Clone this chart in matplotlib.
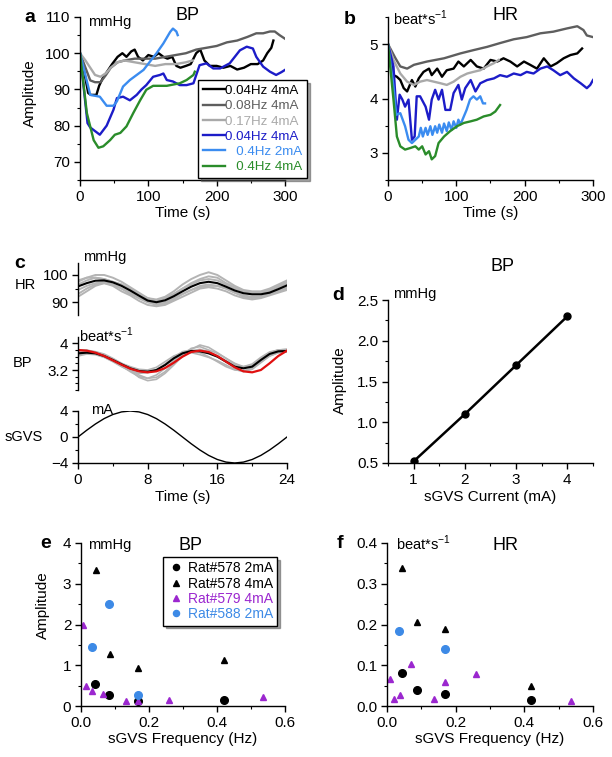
import matplotlib
matplotlib.use("Agg")
import matplotlib.pyplot as plt
from matplotlib.ticker import MultipleLocator

plt.rcParams['font.family'] = ['Liberation Sans', 'DejaVu Sans']
plt.rcParams['mathtext.fontset'] = 'custom'
plt.rcParams['mathtext.rm'] = 'Liberation Sans'

# ---- panel a : BP time course (mmHg) ----
a_labels = ['0.04Hz 4mA', '0.08Hz 4mA', '0.17Hz 4mA', '0.04Hz 4mA', '   0.4Hz 2mA', '   0.4Hz 4mA']
colors = ['#000000', '#5e5e5e', '#a9a9a9', '#1c1cc8', '#3b8cf0', '#2a8c2a']

a_t0 = [0, 6, 12, 16, 24, 28, 33, 40, 47, 55, 62, 68, 75, 80, 85, 92, 100, 108, 115, 122, 128, 135, 141,
        147, 155, 162, 170, 176, 182, 190, 200, 210, 220, 230, 240, 250, 260, 268, 274, 280, 283]
a_v0 = [100, 95, 89, 88.5, 88.5, 91, 93, 95, 97, 99, 100, 99, 100.5, 101, 99, 98, 99.5, 99, 100, 99, 98.5, 99, 96.5,
        96, 96.5, 97, 100, 101, 98, 96.5, 96.5, 96, 96.5, 95.5, 96, 97, 97, 98, 100, 101.5, 103.5]
a_t1 = [0, 8, 15, 22, 30, 38, 45, 55, 65, 80, 95, 110, 125, 140, 155, 170, 185, 200, 215, 230, 245, 258, 268, 278, 285, 292, 300]
a_v1 = [100, 96, 92.5, 92, 92, 94, 96, 97.5, 98, 98.5, 98.5, 98.5, 99, 99.5, 100, 101, 101.5, 102, 103, 103.5, 104.5,
        105.5, 105.5, 106, 106, 105, 104]
a_t2 = [0, 8, 15, 22, 30, 38, 45, 55, 65, 80, 95, 110, 125, 140, 155, 165]
a_v2 = [100, 98, 96, 94, 93.5, 94.5, 96, 97.5, 98, 97.5, 97, 96.5, 97, 97, 97.5, 98]
a_t3 = [0, 11, 15, 29, 39, 49, 54, 63, 73, 83, 90, 97, 107, 117, 122, 127, 136, 146, 156, 166, 175, 185, 195, 205,
        219, 234, 244, 253, 258, 268, 278, 287, 295, 300]
a_v3 = [100, 80.7, 79.5, 77.5, 80, 84.4, 87.6, 88, 87, 88.5, 90, 91.2, 93.5, 94, 94.4, 92.6, 92.2, 91.2, 91.2, 91.7,
        96.7, 97.2, 95.8, 95.8, 97.2, 100.8, 101.8, 101.3, 99, 96.3, 94.9, 94, 94.8, 95.4]
a_t4 = [0, 15, 29, 39, 49, 54, 63, 73, 83, 93, 102, 112, 122, 132, 136, 141, 143]
a_v4 = [100, 88.5, 88, 85.5, 85.5, 86.7, 90.8, 92.6, 94, 95.4, 97.6, 100, 102.7, 105.9, 106.8, 106, 105]
a_t5 = [0, 10, 20, 27, 34, 44, 51, 59, 68, 78, 88, 97, 107, 127, 146, 156, 166, 168]
a_v5 = [100, 83.5, 76, 73.9, 74.3, 76, 77.5, 78, 79.8, 83.5, 87, 89.9, 91, 91, 91.7, 92.6, 94, 94.9]

# ---- panel b : HR time course (beat/s) ----
b_t0 = [0, 8, 13, 18, 23, 28, 35, 40, 45, 52, 60, 64, 72, 79, 86, 96, 103, 111, 121, 130, 140, 150, 160, 169, 179,
        189, 199, 208, 218, 228, 238, 247, 257, 267, 277, 284]
b_v0 = [5.0, 4.43, 4.4, 4.34, 4.19, 4.13, 4.34, 4.22, 4.37, 4.49, 4.55, 4.43, 4.55, 4.4, 4.52, 4.55, 4.68, 4.59, 4.71,
        4.59, 4.55, 4.71, 4.68, 4.74, 4.68, 4.59, 4.68, 4.62, 4.55, 4.74, 4.59, 4.65, 4.74, 4.8, 4.83, 4.92]
b_t1 = [0, 11, 18, 28, 38, 57, 82, 106, 125, 145, 164, 184, 203, 223, 242, 262, 277, 286, 291, 300]
b_v1 = [5.0, 4.74, 4.59, 4.55, 4.62, 4.68, 4.74, 4.83, 4.89, 4.95, 5.02, 5.09, 5.13, 5.2, 5.23, 5.29, 5.33, 5.26, 5.16, 5.13]
b_t2 = [0, 8, 18, 28, 38, 47, 57, 67, 77, 86, 96, 106, 116, 125, 135, 145, 155, 162]
b_v2 = [5.0, 4.71, 4.46, 4.31, 4.25, 4.31, 4.34, 4.31, 4.28, 4.25, 4.31, 4.4, 4.46, 4.49, 4.52, 4.59, 4.65, 4.71]
b_t3 = [0, 8, 13, 17, 21, 25, 30, 35, 39, 42, 47, 55, 60, 64, 69, 74, 79, 84, 91, 96, 103, 108, 113, 121, 128, 135,
        145, 155, 164, 174, 184, 194, 203, 213, 223, 233, 242, 252, 262, 272, 282, 291, 296, 300]
b_v3 = [5.0, 4.59, 3.61, 4.07, 3.98, 3.85, 3.98, 3.24, 3.3, 4.04, 4.04, 3.85, 3.61, 3.98, 4.16, 3.98, 4.16, 3.79,
        3.79, 4.1, 4.25, 3.98, 4.19, 4.34, 4.13, 4.28, 4.34, 4.37, 4.43, 4.4, 4.46, 4.43, 4.49, 4.46, 4.55, 4.59, 4.52,
        4.43, 4.49, 4.37, 4.28, 4.19, 4.25, 4.34]
b_t4 = [0, 8, 12, 18, 25, 30, 35, 40, 45, 48, 51, 55, 58, 62, 65, 69, 72, 75, 79, 82, 86, 89, 93, 96, 100, 103,
        106, 115, 120, 125, 130, 135, 139, 142]
b_v4 = [5.0, 4.22, 3.7, 3.73, 3.49, 3.24, 3.18, 3.24, 3.3, 3.46, 3.3, 3.46, 3.33, 3.49, 3.33, 3.49, 3.37, 3.52, 3.37,
        3.54, 3.4, 3.56, 3.42, 3.58, 3.46, 3.61, 3.52, 3.79, 3.98, 4.04, 3.98, 4.04, 3.91, 3.91]
b_t5 = [0, 8, 13, 18, 25, 33, 40, 45, 50, 55, 60, 64, 69, 74, 82, 91, 101, 111, 121, 130, 140, 150, 157, 164]
b_v5 = [5.0, 3.98, 3.3, 3.12, 3.06, 3.09, 3.12, 3.06, 3.12, 2.97, 3.03, 2.88, 2.94, 3.18, 3.3, 3.4, 3.49, 3.55, 3.58,
        3.61, 3.67, 3.7, 3.76, 3.88]

# ---- panel c : averaged responses over one sGVS cycle ----
c_t = list(range(25))
c_bp_mean = [95.8, 97, 97.9, 98, 97.3, 96, 94.3, 92.4, 90.6, 90, 90.7, 92.2, 94, 95.7, 97, 97.5, 97, 95.7, 94.3,
             93.3, 92.9, 92.9, 93.5, 94.8, 96.2]
c_bp_trials = [
    [97.5, 99, 100, 100, 99, 97.5, 95.5, 93.5, 91.5, 91, 92, 94, 96.5, 98.5, 100, 101, 100, 98, 96, 94.5, 94, 94, 95, 96.5, 98],
    [93, 95, 96.5, 97, 96, 94, 92.5, 90.5, 89, 88.5, 89, 90.5, 92, 93.5, 95, 95.5, 95, 94, 92.5, 91.5, 91, 91.5, 92.5, 93.5, 94.5],
    [96.5, 98, 99, 98.5, 97.5, 96.5, 95, 93, 91.5, 90.5, 91.5, 93, 95, 96.5, 98, 98.5, 98, 96.5, 95, 94, 93.5, 93.5, 94, 95.5, 97],
    [94.5, 96, 97, 97.5, 96.5, 95, 93.5, 91.5, 90, 89.5, 90, 91.5, 93, 94.5, 96, 96.5, 96, 95, 93.5, 92.5, 92, 92, 93, 94, 95],
    [98, 99, 99, 98.5, 97.5, 96.5, 94.5, 93, 91, 90.5, 91.5, 93, 95, 97, 98.5, 99.5, 99, 97, 95.5, 94, 93.5, 93.5, 94.5, 96, 97.5],
    [92, 94, 96, 97, 96.5, 95, 93, 91.5, 90, 89, 89.5, 91, 93, 94.5, 95.5, 96, 96, 95, 93.5, 92, 91.5, 92, 93, 94.5, 95.5],
]
c_hr_mean = [3.70, 3.72, 3.70, 3.62, 3.50, 3.37, 3.25, 3.17, 3.15, 3.20, 3.35, 3.55, 3.70, 3.77, 3.76, 3.70, 3.60,
             3.45, 3.30, 3.25, 3.30, 3.50, 3.68, 3.76, 3.77]
c_hr_fit = [3.80, 3.78, 3.72, 3.62, 3.49, 3.36, 3.24, 3.16, 3.13, 3.16, 3.26, 3.42, 3.60, 3.74, 3.78, 3.74, 3.62,
            3.45, 3.28, 3.16, 3.13, 3.20, 3.40, 3.62, 3.78]
c_hr_trials = [
    [3.75, 3.78, 3.75, 3.68, 3.55, 3.40, 3.22, 3.05, 2.95, 2.98, 3.15, 3.40, 3.65, 3.85, 3.90, 3.80, 3.70, 3.55, 3.38, 3.28, 3.32, 3.50, 3.70, 3.80, 3.82],
    [3.62, 3.68, 3.66, 3.58, 3.45, 3.30, 3.18, 3.10, 3.12, 3.20, 3.38, 3.58, 3.75, 3.80, 3.72, 3.60, 3.45, 3.30, 3.20, 3.18, 3.25, 3.45, 3.62, 3.72, 3.74],
    [3.80, 3.80, 3.74, 3.65, 3.52, 3.38, 3.20, 2.98, 2.88, 2.92, 3.10, 3.35, 3.62, 3.82, 3.95, 3.88, 3.72, 3.55, 3.40, 3.30, 3.35, 3.55, 3.72, 3.80, 3.82],
    [3.66, 3.70, 3.68, 3.62, 3.52, 3.40, 3.30, 3.22, 3.20, 3.28, 3.45, 3.62, 3.72, 3.72, 3.66, 3.58, 3.48, 3.35, 3.22, 3.15, 3.22, 3.42, 3.62, 3.72, 3.75],
    [3.72, 3.74, 3.70, 3.62, 3.48, 3.32, 3.15, 3.00, 2.95, 3.05, 3.25, 3.48, 3.68, 3.78, 3.82, 3.75, 3.62, 3.48, 3.35, 3.30, 3.38, 3.58, 3.74, 3.80, 3.80],
]
c_sgvs = [0, 1.04, 2.0, 2.83, 3.46, 3.86, 4.0, 3.86, 3.46, 2.83, 2.0, 1.04, 0, -1.04, -2.0, -2.83, -3.46, -3.86,
          -4.0, -3.86, -3.46, -2.83, -2.0, -1.04, 0]

# ---- panel d : amplitude vs current ----
d_current = [1, 2, 3, 4]
d_amp = [0.52, 1.1, 1.7, 2.3]

# ---- panels e, f : amplitude vs frequency ----
ef_labels = ['Rat#578 2mA', 'Rat#578 4mA', 'Rat#579 4mA', 'Rat#588 2mA']
ef_colors = ['#000000', '#000000', '#9b27cf', '#3d8ae6']
ef_markers = ['o', '^', '^', 'o']
e_freq = [[0.041, 0.082, 0.167, 0.42],
          [0.043, 0.085, 0.169, 0.42],
          [0.007, 0.015, 0.032, 0.066, 0.132, 0.167, 0.26, 0.536],
          [0.031, 0.082, 0.167]]
e_amp = [[0.53, 0.27, 0.12, 0.15],
         [3.34, 1.28, 0.93, 1.13],
         [1.98, 0.5, 0.36, 0.29, 0.13, 0.13, 0.15, 0.21],
         [1.46, 2.51, 0.27]]
f_freq = [[0.044, 0.086, 0.17, 0.42],
          [0.045, 0.086, 0.17, 0.42],
          [0.01, 0.019, 0.037, 0.069, 0.137, 0.17, 0.26, 0.535],
          [0.034, 0.17]]
f_amp = [[0.08, 0.039, 0.03, 0.015],
         [0.338, 0.207, 0.189, 0.048],
         [0.067, 0.017, 0.027, 0.103, 0.018, 0.058, 0.078, 0.013],
         [0.184, 0.139]]

W, H = 612, 757
fig = plt.figure(figsize=(W / 100, H / 100), dpi=100)


def box(l, t, r, b):
    return [l / W, 1 - b / H, (r - l) / W, (b - t) / H]


def ftext(x, y, s, **kw):
    kw.setdefault('ha', 'center')
    kw.setdefault('va', 'center')
    fig.text(x / W, 1 - y / H, s, **kw)


def style(ax, xmaj=None, xmin=None, ymaj=None, ymin=None, xaxis=True):
    ax.spines['top'].set_visible(False)
    ax.spines['right'].set_visible(False)
    ax.spines['left'].set_linewidth(1)
    ax.spines['bottom'].set_linewidth(1)
    ax.tick_params(direction='out', length=4, width=1, labelsize=11, pad=3)
    ax.tick_params(which='minor', direction='out', length=2.5, width=0.8)
    if xmaj:
        ax.xaxis.set_major_locator(MultipleLocator(xmaj))
    if xmin:
        ax.xaxis.set_minor_locator(MultipleLocator(xmin))
    if ymaj:
        ax.yaxis.set_major_locator(MultipleLocator(ymaj))
    if ymin:
        ax.yaxis.set_minor_locator(MultipleLocator(ymin))
    if not xaxis:
        ax.spines['bottom'].set_visible(False)
        ax.tick_params(axis='x', which='both', bottom=False, labelbottom=False)
    ax.patch.set_alpha(0)


unit_hr = r'beat*s$^{\mathregular{-1}}$'

# panel a
ax = fig.add_axes(box(80, 17, 285, 180))
for t, v, c, lab in zip([a_t0, a_t1, a_t2, a_t3, a_t4, a_t5], [a_v0, a_v1, a_v2, a_v3, a_v4, a_v5], colors, a_labels):
    ax.plot(t, v, color=c, lw=1.7, label=lab)
ax.set_xlim(0, 300)
ax.set_ylim(65, 110)
style(ax, 100, 50, 10, 5)
ax.set_xlabel('Time (s)', fontsize=11, labelpad=2)
leg = ax.legend(loc='upper left', bbox_to_anchor=(198 / W, 1 - 80 / H), bbox_transform=fig.transFigure,
                fontsize=9.6, frameon=True, fancybox=False, shadow=True, framealpha=1, edgecolor='k',
                handlelength=1.7, handletextpad=0.0, borderpad=0.35, labelspacing=0.22, borderaxespad=0)
leg.get_frame().set_linewidth(1)
for txt, c in zip(leg.get_texts(), colors):
    txt.set_color(c)
ftext(30, 17, 'a', fontsize=14, fontweight='bold')
ftext(110, 22, 'mmHg', fontsize=10.5)
ftext(187, 15, 'BP', fontsize=13)
ftext(30, 93, 'Amplitude', fontsize=11, rotation=90)

# panel b
ax = fig.add_axes(box(388, 17, 593, 180))
for t, v, c in zip([b_t0, b_t1, b_t2, b_t3, b_t4, b_t5], [b_v0, b_v1, b_v2, b_v3, b_v4, b_v5], colors):
    ax.plot(t, v, color=c, lw=1.7)
ax.set_xlim(0, 300)
ax.set_ylim(2.5, 5.5)
style(ax, 100, 50, 1, 0.5)
ax.set_xlabel('Time (s)', fontsize=11, labelpad=2)
ftext(350, 19, 'b', fontsize=14, fontweight='bold')
ftext(420, 18, unit_hr, fontsize=10.5)
ftext(505, 15, 'HR', fontsize=13)

# panel c
ax = fig.add_axes(box(78, 263, 287, 315))
for tr in c_bp_trials:
    ax.plot(c_t, tr, color='#b4b4b4', lw=1.4)
ax.plot(c_t, c_bp_mean, color='k', lw=1.5)
ax.set_xlim(0, 24)
ax.set_ylim(85.3, 104.4)
style(ax, ymaj=10, ymin=5, xaxis=False)

ax = fig.add_axes(box(78, 337, 287, 390))
for tr in c_hr_trials:
    ax.plot(c_t, tr, color='#b4b4b4', lw=1.2)
ax.plot(c_t, c_hr_mean, color='k', lw=1.5)
ax.plot(c_t, c_hr_fit, color='#e01010', lw=1.6)
ax.set_xlim(0, 24)
ax.set_ylim(2.6, 4.19)
ax.set_yticks([3.2, 4.0])
ax.set_yticklabels(['3.2', '4'])
style(ax, ymin=0.2, xaxis=False)

ax = fig.add_axes(box(78, 411, 287, 463))
ax.plot(c_t, c_sgvs, color='k', lw=1)
ax.set_xlim(0, 24)
ax.set_ylim(-4, 4)
style(ax, 8, 4, 4, 2)
ax.set_xlabel('Time (s)', fontsize=11, labelpad=2)
ftext(20, 263, 'c', fontsize=14, fontweight='bold')
ftext(105, 257, 'mmHg', fontsize=10.5)
ftext(25, 285, 'HR', fontsize=10.5)
ftext(106, 335, unit_hr, fontsize=10.5)
ftext(23, 363, 'BP', fontsize=10.5)
ftext(102, 410, 'mA', fontsize=10.5)
ftext(24, 437, 'sGVS', fontsize=10.5)

# panel d
ax = fig.add_axes(box(388, 300, 593, 463))
ax.plot(d_current, d_amp, color='k', lw=1.8, marker='o', ms=5)
ax.set_xlim(0.5, 4.5)
ax.set_ylim(0.5, 2.5)
style(ax, 1, 0.5, 0.5, 0.25)
ax.set_xlabel('sGVS Current (mA)', fontsize=11, labelpad=2)
ftext(503, 266, 'BP', fontsize=13)
ftext(338, 296, 'd', fontsize=14, fontweight='bold')
ftext(415, 294, 'mmHg', fontsize=10.5)
ftext(340, 380, 'Amplitude', fontsize=11, rotation=90)

# panel e
ax = fig.add_axes(box(81, 543, 285, 706))
for x, y, c, m, lab in zip(e_freq, e_amp, ef_colors, ef_markers, ef_labels):
    ax.plot(x, y, ls='none', marker=m, color=c, ms=5.5 if m == 'o' else 5, label=lab)
ax.set_xlim(0, 0.6)
ax.set_ylim(0, 4)
style(ax, 0.2, 0.1, 1, 0.5)
ax.set_xlabel('sGVS Frequency (Hz)', fontsize=11, labelpad=2)
leg = ax.legend(loc='upper left', bbox_to_anchor=(163 / W, 1 - 557 / H), bbox_transform=fig.transFigure,
                fontsize=10, frameon=True, fancybox=False, shadow=True, framealpha=1, edgecolor='k',
                handlelength=1.2, handletextpad=0.3, borderpad=0.3, labelspacing=0.1, borderaxespad=0,
                markerscale=0.8)
leg.get_frame().set_linewidth(1)
for txt, c in zip(leg.get_texts(), ef_colors):
    txt.set_color(c)
ftext(46, 543, 'e', fontsize=14, fontweight='bold')
ftext(110, 545, 'mmHg', fontsize=10.5)
ftext(190, 545, 'BP', fontsize=13)
ftext(43, 605, 'Amplitude', fontsize=11, rotation=90)

# panel f
ax = fig.add_axes(box(387, 543, 593, 706))
for x, y, c, m in zip(f_freq, f_amp, ef_colors, ef_markers):
    ax.plot(x, y, ls='none', marker=m, color=c, ms=5.5 if m == 'o' else 5)
ax.set_xlim(0, 0.6)
ax.set_ylim(0, 0.4)
style(ax, 0.2, 0.1, 0.1, 0.05)
ax.set_xlabel('sGVS Frequency (Hz)', fontsize=11, labelpad=2)
ftext(340, 543, 'f', fontsize=14, fontweight='bold')
ftext(423, 543, unit_hr, fontsize=10.5)
ftext(505, 545, 'HR', fontsize=13)

fig.savefig('out.png', dpi=100)
